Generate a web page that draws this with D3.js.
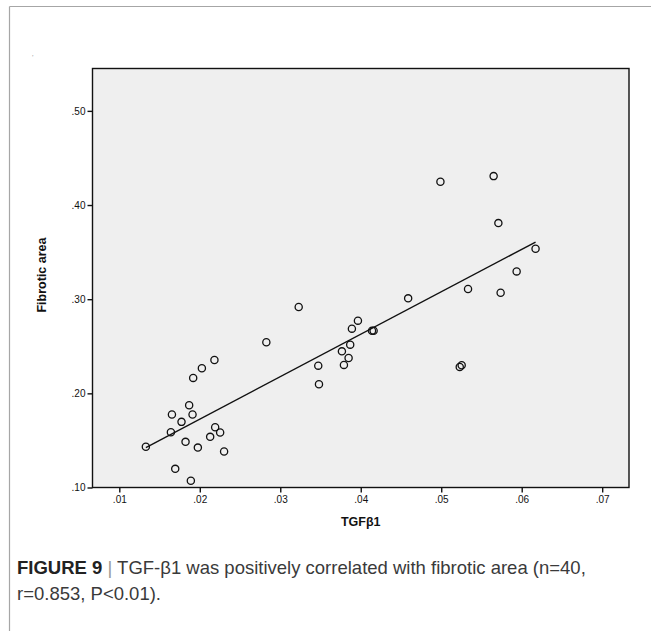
<!DOCTYPE html>
<html>
<head>
<meta charset="utf-8">
<script src="https://cdn.jsdelivr.net/npm/d3@7"></script>
<style>
  body { margin: 0; background: #fff; }
  svg { display: block; }
</style>
</head>
<body>
<svg id="chart" width="651" height="631"></svg>
<script>
// TGF-β1 level per sample
const tgf = [
  0.0133, 0.01654, 0.01641, 0.01773, 0.01695, 0.01823, 0.01868, 0.01910, 0.01918, 0.01889,
  0.01976, 0.02026, 0.02182, 0.02191, 0.02129, 0.02253, 0.02302, 0.02827, 0.03229, 0.03472,
  0.03481, 0.03766, 0.03791, 0.03849, 0.03869, 0.03890, 0.03965, 0.04140, 0.04160, 0.04589,
  0.05333, 0.05738, 0.05230, 0.05254, 0.04990, 0.05651, 0.05710, 0.06172, 0.05937
];
// Fibrotic area fraction per sample (same order)
const fibrotic = [
  0.1432, 0.1775, 0.1587, 0.1697, 0.1198, 0.1485, 0.1873, 0.1775, 0.2164, 0.1071,
  0.1424, 0.2266, 0.2354, 0.1640, 0.1538, 0.1584, 0.1382, 0.2542, 0.2917, 0.2294,
  0.2096, 0.2446, 0.2302, 0.2376, 0.2517, 0.2687, 0.2772, 0.2666, 0.2666, 0.3009,
  0.3108, 0.3069, 0.2281, 0.2298, 0.4247, 0.4307, 0.3808, 0.3536, 0.3295
];
const xTicks = [0.01, 0.02, 0.03, 0.04, 0.05, 0.06, 0.07];
const yTicks = [0.10, 0.20, 0.30, 0.40, 0.50];
const xDomain = [0.00667, 0.07333];
const yDomain = [0.10, 0.545];

const svg = d3.select("#chart");
const plot = { left: 92.5, right: 629, top: 68.5, bottom: 487.5 };

// outer panel edges
svg.append("line").attr("x1", 9.5).attr("x2", 651).attr("y1", 6.5).attr("y2", 6.5)
  .attr("stroke", "#a6a6a6").attr("stroke-width", 1.2);
svg.append("line").attr("x1", 9.5).attr("x2", 9.5).attr("y1", 6.5).attr("y2", 631)
  .attr("stroke", "#a6a6a6").attr("stroke-width", 1.2);
svg.append("text").attr("x", 32).attr("y", 56).attr("font-size", 6)
  .attr("fill", "#888").text(",");

const x = d3.scaleLinear().domain(xDomain).range([plot.left, plot.right]);
const y = d3.scaleLinear().domain(yDomain).range([plot.bottom, plot.top]);

// plot background and frame
svg.append("rect")
  .attr("x", plot.left).attr("y", plot.top)
  .attr("width", plot.right - plot.left).attr("height", plot.bottom - plot.top)
  .attr("fill", "#efefef").attr("stroke", "#111").attr("stroke-width", 1.4);

const fmt = d => d3.format(".2f")(d).replace(/^0/, "");

const xAxis = svg.append("g")
  .attr("transform", `translate(0,${plot.bottom})`)
  .call(d3.axisBottom(x).tickValues(xTicks).tickFormat(fmt).tickSize(5).tickPadding(3));
const yAxis = svg.append("g")
  .attr("transform", `translate(${plot.left},0)`)
  .call(d3.axisLeft(y).tickValues(yTicks).tickFormat(fmt).tickSize(5).tickPadding(2));

[xAxis, yAxis].forEach(g => {
  g.select(".domain").remove();
  g.selectAll(".tick line").attr("stroke", "#111").attr("stroke-width", 1.4);
  g.selectAll(".tick text")
    .attr("fill", "#111")
    .attr("font-family", "Liberation Sans, Arial, sans-serif")
    .attr("font-size", 10);
});

// least-squares fit line over the observed range
const mx = d3.mean(tgf), my = d3.mean(fibrotic);
const sxy = d3.sum(tgf, (v, i) => (v - mx) * (fibrotic[i] - my));
const sxx = d3.sum(tgf, v => (v - mx) ** 2);
const slope = sxy / sxx, intercept = my - slope * mx;
const [xmin, xmax] = d3.extent(tgf);
svg.append("line")
  .attr("x1", x(xmin)).attr("y1", y(intercept + slope * xmin))
  .attr("x2", x(xmax)).attr("y2", y(intercept + slope * xmax))
  .attr("stroke", "#111").attr("stroke-width", 1.4);

// sample points
svg.append("g").selectAll("circle")
  .data(tgf.map((v, i) => [v, fibrotic[i]]))
  .join("circle")
  .attr("cx", d => x(d[0])).attr("cy", d => y(d[1]))
  .attr("r", 3.6)
  .attr("fill", "none").attr("stroke", "#111").attr("stroke-width", 1.3);

// axis titles
svg.append("text")
  .attr("x", (plot.left + plot.right) / 2).attr("y", 526)
  .attr("text-anchor", "middle")
  .attr("font-family", "Liberation Sans, Arial, sans-serif")
  .attr("font-size", 12.5).attr("font-weight", "bold").attr("fill", "#111")
  .text("TGFβ1");
svg.append("text")
  .attr("transform", `translate(46,${(plot.top + plot.bottom) / 2 - 3}) rotate(-90)`)
  .attr("text-anchor", "middle")
  .attr("font-family", "Liberation Sans, Arial, sans-serif")
  .attr("font-size", 12.5).attr("font-weight", "bold").attr("fill", "#111")
  .text("Fibrotic area");

// caption
const cap = svg.append("g")
  .attr("font-family", "Liberation Sans, Arial, sans-serif")
  .attr("font-size", 18.5).attr("fill", "#3a3a3a");
const l1 = cap.append("text").attr("x", 17).attr("y", 574);
l1.append("tspan").attr("font-weight", "bold").attr("fill", "#222").text("FIGURE 9");
l1.append("tspan").attr("fill", "#999").text(" | ");
l1.append("tspan").text("TGF-β1 was positively correlated with fibrotic area (n=40,");
cap.append("text").attr("x", 17).attr("y", 600).text("r=0.853, P<0.01).");
</script>
</body>
</html>
